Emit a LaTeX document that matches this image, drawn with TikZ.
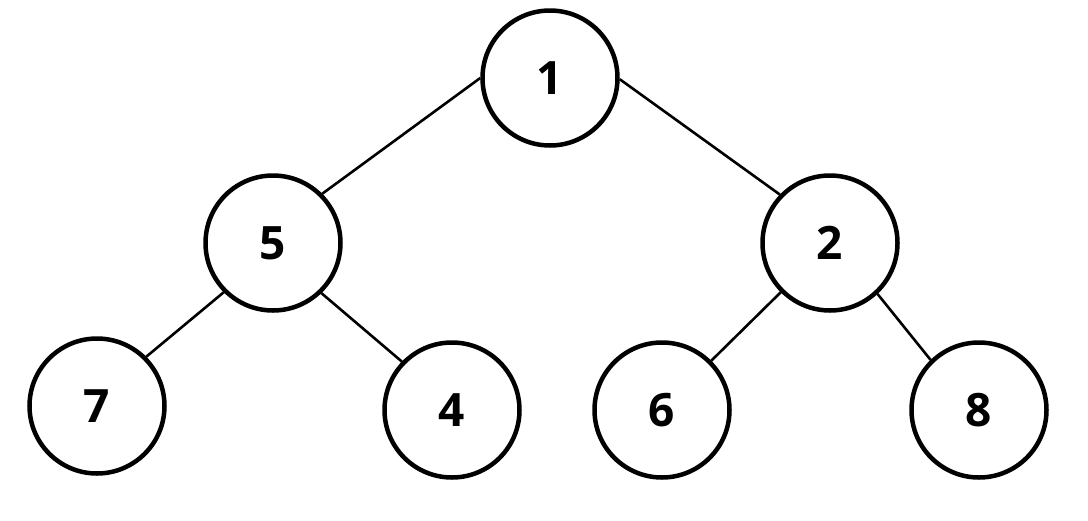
\documentclass[tikz,border=0pt]{standalone}
\usepackage{fontspec}
\setmainfont{Open Sans}
\begin{document}
\begin{tikzpicture}[x=1pt,y=-1pt,
  treenode/.style={circle,draw=black,line width=4.5pt,minimum size=135pt,inner sep=0pt,
    font=\fontsize{46}{46}\selectfont\bfseries},
  treeedge/.style={line width=2.6pt,black}]
\useasboundingbox (0,0) rectangle (1088,520);
\node[treenode] (n1) at (550,78) {1};
\node[treenode] (n5) at (273,243) {5};
\node[treenode] (n2) at (830,243) {2};
\node[treenode] (n7) at (97,406) {7};
\node[treenode] (n4) at (452,410) {4};
\node[treenode] (n6) at (662,410) {6};
\node[treenode] (n8) at (979,410) {8};
\draw[treeedge] (n1.180) -- (n5.45);
\draw[treeedge] (n1.359) -- (n2.136);
\draw[treeedge] (n5.225) -- (n7.45);
\draw[treeedge] (n5.314) -- (n4.136);
\draw[treeedge] (n2.225) -- (n6.45);
\draw[treeedge] (n2.313) -- (n8.134);
\end{tikzpicture}
\end{document}
